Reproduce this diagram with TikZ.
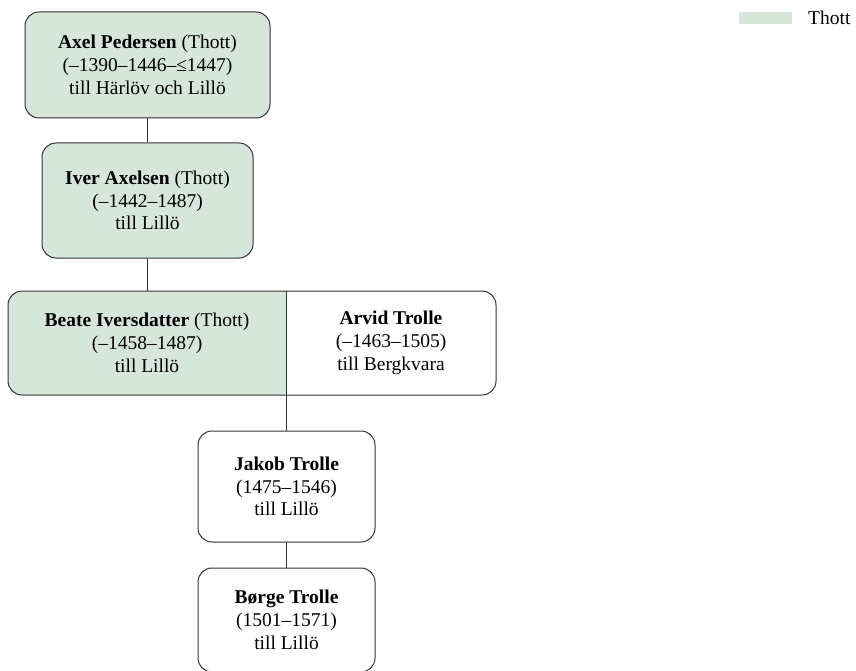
\documentclass[tikz,border=0pt]{standalone}
\usepackage{fontspec}
\setmainfont{Liberation Serif}
\usetikzlibrary{positioning}
\definecolor{thottgreen}{HTML}{D6E6DB}
\definecolor{framegray}{HTML}{333333}

\begin{document}
\begin{tikzpicture}[x=1pt, y=-1pt,
  person/.style={draw=framegray, line width=1pt, rounded corners=14pt,
                 align=center, inner sep=0pt,
                 font=\fontsize{19.5}{22.8}\selectfont},
  plain/.style={align=center, inner sep=0pt,
                font=\fontsize{19.5}{22.8}\selectfont},
  tie/.style={draw=framegray, line width=0.9pt},
]
  \useasboundingbox (0,0) rectangle (856,671);

  % Thott line
  \node[person, fill=thottgreen, minimum width=245pt, minimum height=106pt]
    (axel) at (147.5,65) {\textbf{Axel Pedersen} (Thott)\\(–1390–1446–≤1447)\\till Härlöv och Lillö};
  \node[person, fill=thottgreen, minimum width=211pt, minimum height=115pt]
    (iver) at (147.5,200.5) {\textbf{Iver Axelsen} (Thott)\\(–1442–1487)\\till Lillö};

  % the couple
  \begin{scope}
    \clip[rounded corners=14pt] (8,291) rectangle (496,395);
    \fill[thottgreen] (8,291) rectangle (286.5,395);
  \end{scope}
  \node[person, minimum width=488pt, minimum height=104pt] (couple) at (252,343) {};
  \coordinate (mid) at (286.5,291);
  \coordinate (midb) at (286.5,395);
  \node[plain] (beate) at (147,343) {\textbf{Beate Iversdatter} (Thott)\\(–1458–1487)\\till Lillö};
  \node[plain] (arvid) at (391,343) {\textbf{Arvid Trolle}\\(–1463–1505)\\till Bergkvara};

  % Trolle line
  \node[person, minimum width=177pt, minimum height=111pt]
    (jakob) at (286.5,486.5) {\textbf{Jakob Trolle}\\(1475–1546)\\till Lillö};
  \node[person, minimum width=177pt, minimum height=104pt]
    (borge) at (286.5,620) {\textbf{Børge Trolle}\\(1501–1571)\\till Lillö};

  \draw[tie] (axel) -- (iver);
  \draw[tie] (iver) -- (iver |- couple.north);
  \draw[tie] (mid) -- (midb);
  \draw[tie] (midb) -- (jakob);
  \draw[tie] (jakob) -- (borge);

  % legend
  \node[fill=thottgreen, minimum width=53pt, minimum height=12pt, inner sep=0pt]
    (key) at (765.5,18) {};
  \node[plain, anchor=west] (keytext) at (808,18) {Thott};
\end{tikzpicture}
\end{document}
